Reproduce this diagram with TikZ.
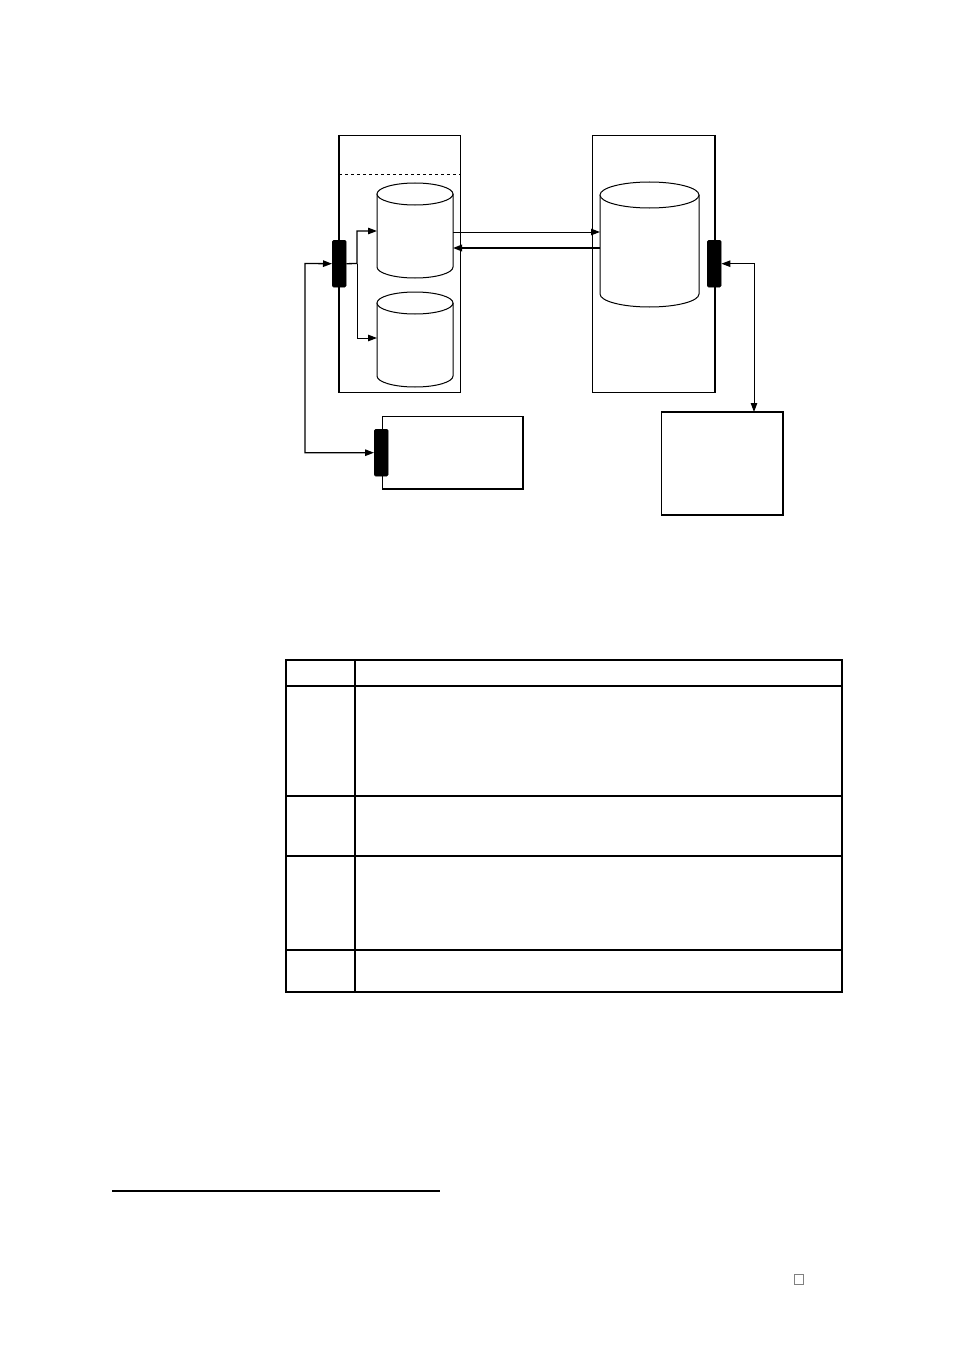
\documentclass[tikz,border=0pt]{standalone}
\usetikzlibrary{arrows.meta}
\begin{document}
\begin{tikzpicture}[x=1pt,y=-1pt,
  ln/.style={line width=1pt},
  lnthick/.style={line width=1.7pt},
  arr/.style={-{Triangle[length=9pt,width=6.5pt]}},
  biarr/.style={{Triangle[length=9pt,width=6.5pt]}-{Triangle[length=9pt,width=6.5pt]}},
  frame/.style={draw, line width=1pt, inner sep=0pt, anchor=north west},
  port/.style={fill=black, draw=black, rounded corners=1.5pt, inner sep=0pt, anchor=north west, minimum width=14pt, minimum height=47pt}]
\useasboundingbox (0,0) rectangle (954,1351);
% left host box
\node[frame, minimum width=121pt, minimum height=257pt] (lbox) at (339,135) {};
\draw[lnthick] (lbox.north west) -- (lbox.south west);
\draw[ln, dashed] (339,175) -- (460,175);
% right host box
\node[frame, minimum width=122pt, minimum height=257pt] (rbox) at (592,135) {};
\draw[lnthick] (rbox.north east) -- (rbox.south east);
% cylinders
\newcommand\mycyl[5]{% x1, x2, ytop centre, ybottom centre, ry
  \pgfmathsetmacro\rx{(#2-#1)/2}
  \pgfmathsetmacro\cx{(#1+#2)/2}
  \fill[white] (#1,#3) rectangle (#2,#4);
  \draw[ln, fill=white] (#1,#3) -- (#1,#4) arc[start angle=180,end angle=360,x radius=\rx pt,y radius=#5 pt] -- (#2,#3);
  \draw[ln, fill=white] (\cx,#3) ellipse [x radius=\rx pt, y radius=#5 pt];
}
\mycyl{377}{453}{194}{267}{11}
\mycyl{377}{453}{303}{376}{11}
\mycyl{600}{699}{195}{294}{13}
\coordinate (c1a) at (377,231);
\coordinate (c2a) at (377,338);
\coordinate (c1r) at (453,232);
\coordinate (c1rb) at (453,248);
\coordinate (c3l) at (600,232);
\coordinate (c3lb) at (600,248);
% ports
\node[port] (lport) at (332,240) {};
\node[port] (rport) at (707,240) {};
% lower left box
\node[frame, minimum width=140pt, minimum height=72pt] (llbox) at (382,416) {};
\draw[lnthick] (llbox.north east) -- (llbox.south east) -- (llbox.south west);
\node[port] (bport) at (374,429) {};
% lower right box
\node[frame, minimum width=121pt, minimum height=102pt] (lrbox) at (661,412) {};
\draw[lnthick] (lrbox.north west) -- (lrbox.north east) -- (lrbox.south east) -- (lrbox.south west);
\coordinate (lrtop) at (754,412);
% connectors
\draw[line width=1.3pt, biarr] (lport.west) -- (305,263.5) |- (bport.west);
\draw[line width=1.3pt, arr] (lport.east) -- (357,263.5) |- (c1a);
\draw[ln, arr] (357,263.5) |- (c2a);
\draw[ln, arr] (c1r) -- (c3l);
\draw[lnthick, arr] (c3lb) -- (c1rb);
\draw[ln, biarr] (rport.east) -| (lrtop);
% table
\draw[line width=1.1pt] (286,660) rectangle (842,992);
\draw[line width=2.2pt] (355,660) -- (355,992);
\draw[line width=2.4pt] (286,686) -- (842,686);
\draw[line width=1.1pt] (286,796) -- (842,796);
\draw[line width=1.1pt] (286,856) -- (842,856);
\draw[line width=1.1pt] (286,950) -- (842,950);
% footnote rule and mark
\draw[line width=1.1pt] (112,1191) -- (440,1191);
\draw[gray, line width=0.8pt] (794,1274) rectangle (803,1284);
\end{tikzpicture}
\end{document}
